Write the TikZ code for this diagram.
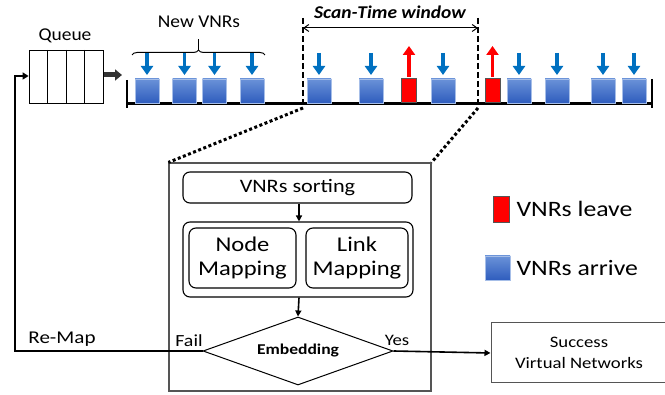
\documentclass[tikz,border=0pt]{standalone}
\usepackage{fontspec}
\setmainfont{Carlito}
\newfontfamily\lowf[FakeStretch=1.17]{Carlito}
\newfontfamily\upf[FakeStretch=1.08]{Carlito}
\usetikzlibrary{arrows.meta,shapes.geometric,decorations.pathreplacing}
\definecolor{arrblue}{HTML}{0070C0}
\definecolor{boxtop}{HTML}{6A92D8}
\definecolor{boxbot}{HTML}{2F5DBE}
\definecolor{edgegray}{HTML}{555555}
\tikzset{
  x=1pt,y=-1pt,
  vnr/.style={minimum width=24pt,minimum height=24pt,inner sep=0pt,anchor=south,top color=boxtop,bottom color=boxbot,draw=boxtop!60!white,line width=0.4pt},
  lvr/.style={minimum width=15pt,minimum height=24pt,inner sep=0pt,anchor=south,fill=red,draw=edgegray,line width=0.8pt},
  downarr/.style={arrblue,line width=3.5pt,-{Triangle[length=9pt,width=12pt]}},
  uparr/.style={red,line width=3.5pt,-{Triangle[length=9pt,width=12pt]}},
  rbox/.style={draw=black,line width=1.1pt,rounded corners=7pt,inner sep=0pt},
  flow/.style={line width=1.6pt,-{Triangle[length=6pt,width=6pt]}},
}
\begin{document}
\begin{tikzpicture}
\useasboundingbox (0,0) rectangle (665,395);
% Queue
\node[draw=black,line width=0.8pt,minimum width=74pt,minimum height=53pt,inner sep=0pt] (queue) at (66,76.5) {};
\foreach \xx in {47,66,84} \draw[line width=0.8pt] (\xx,50) -- (\xx,103);
\node[font=\upf\fontsize{18}{20}\selectfont] (qlab) at (65,36) {Queue};
\coordinate (qa1) at (104,75);
\coordinate (qa2) at (122,75);
\draw[line width=5pt,black!80,-{Triangle[length=7pt,width=11pt]}] (qa1) -- (qa2);
% timeline
\coordinate (tl0) at (127,104);
\coordinate (tl1) at (652,104);
\draw[line width=3pt] (tl0) -- (tl1);
\draw[line width=2.5pt] (127,80) -- (127,108);
\draw[line width=2.5pt] (652,79) -- (652,108);
% boxes
\foreach \cx in {147,184.5,214.5,252,319,371,443,519,557,603,634}{
  \node[vnr] at (\cx,103) {};
  \draw[downarr] (\cx,53) -- (\cx,75);
}
\foreach \cx in {409,492.5}{
  \node[lvr] at (\cx,103) {};
  \draw[uparr] (\cx,77) -- (\cx,46);
}
% brace
\coordinate (b0) at (132,55);
\coordinate (b1) at (265,55);
\draw[line width=1pt,decorate,decoration={brace,amplitude=5pt}] (b0) -- (b1);
\draw[line width=1pt] (198.5,50) -- (198.5,39);
\node[font=\upf\fontsize{18}{20}\selectfont] (newlab) at (199,22) {New VNRs};
% scan-time window
\coordinate (w0t) at (303,18);
\coordinate (w0b) at (303,108);
\coordinate (w1t) at (478,18);
\coordinate (w1b) at (478,108);
\draw[line width=1.8pt,dash pattern=on 6pt off 3pt] (w0t) -- (w0b);
\draw[line width=1.8pt,dash pattern=on 6pt off 3pt] (w1t) -- (w1b);
\draw[line width=1pt,{Straight Barb[length=5pt,width=7pt]}-{Straight Barb[length=5pt,width=7pt]}] (303,28) -- (478,28);
\node[font=\upf\fontsize{18}{20}\selectfont\bfseries\itshape] (wlab) at (390,12) {Scan-Time window};
% big box
\node[draw=edgegray,line width=1.2pt,minimum width=262pt,minimum height=228pt,inner sep=0pt] (big) at (300,277) {};
\draw[line width=3pt,dash pattern=on 3pt off 2.5pt] (w0b) -- (big.north west);
\draw[line width=3pt,dash pattern=on 3pt off 2.5pt] (w1b) -- (big.north east);
% sorting
\node[rbox,minimum width=229pt,minimum height=31pt,font=\lowf\fontsize{19}{22}\selectfont] (sort) at (297.5,187.5) {VNRs sorting};
\node[rbox,minimum width=230pt,minimum height=75pt] (map) at (298,259.5) {};
\node[rbox,minimum width=107pt,minimum height=60pt,align=center,font=\lowf\fontsize{21}{24}\selectfont] (node) at (242.5,258) {Node\\Mapping};
\node[rbox,minimum width=102pt,minimum height=60pt,align=center,font=\lowf\fontsize{21}{24}\selectfont] (link) at (357,258) {Link\\Mapping};
\node[diamond,draw=black,line width=1pt,minimum width=190pt,minimum height=68pt,inner sep=0pt,aspect=2.8,font=\lowf\fontsize{15}{17}\selectfont\bfseries] (emb) at (298,351) {Embedding};
\draw[flow] (sort.south -| 299,0) -- (map.north -| 299,0);
\draw[flow] (map.south -| 299,0) -- (emb.north);
\node[font=\lowf\fontsize{17}{20}\selectfont] (fail) at (189,341) {Fail};
\node[font=\lowf\fontsize{16}{20}\selectfont] (yes) at (397,340) {Yes};
% success
\node[draw=edgegray,line width=1pt,minimum width=176pt,minimum height=60pt,inner sep=0pt,align=center,font=\lowf\fontsize{16}{21}\selectfont] (succ) at (579,353) {Success\\Virtual Networks};
\draw[line width=1.6pt,-{Triangle[length=6pt,width=6pt]}] (emb.east) -- (succ.west);
% remap
\coordinate (rm1) at (15,351);
\coordinate (rm2) at (15,76);
\draw[line width=2.5pt,-{Triangle[length=6pt,width=7pt]}] (emb.west) -- (rm1) -- (rm2) -- (queue.west |- rm2);
\node[font=\lowf\fontsize{18}{21}\selectfont] (remap) at (62,339) {Re-Map};
% legend
\node[lvr,minimum width=16pt,minimum height=26pt,anchor=center] (legr) at (501,209) {};
\node[anchor=west,font=\lowf\fontsize{22}{25}\selectfont] (legrl) at (513,209) {VNRs leave};
\node[vnr,minimum width=25pt,minimum height=24pt,anchor=center] (legb) at (497.5,268) {};
\node[anchor=west,font=\lowf\fontsize{22}{25}\selectfont] (legbl) at (513,268) {VNRs arrive};
\end{tikzpicture}
\end{document}
